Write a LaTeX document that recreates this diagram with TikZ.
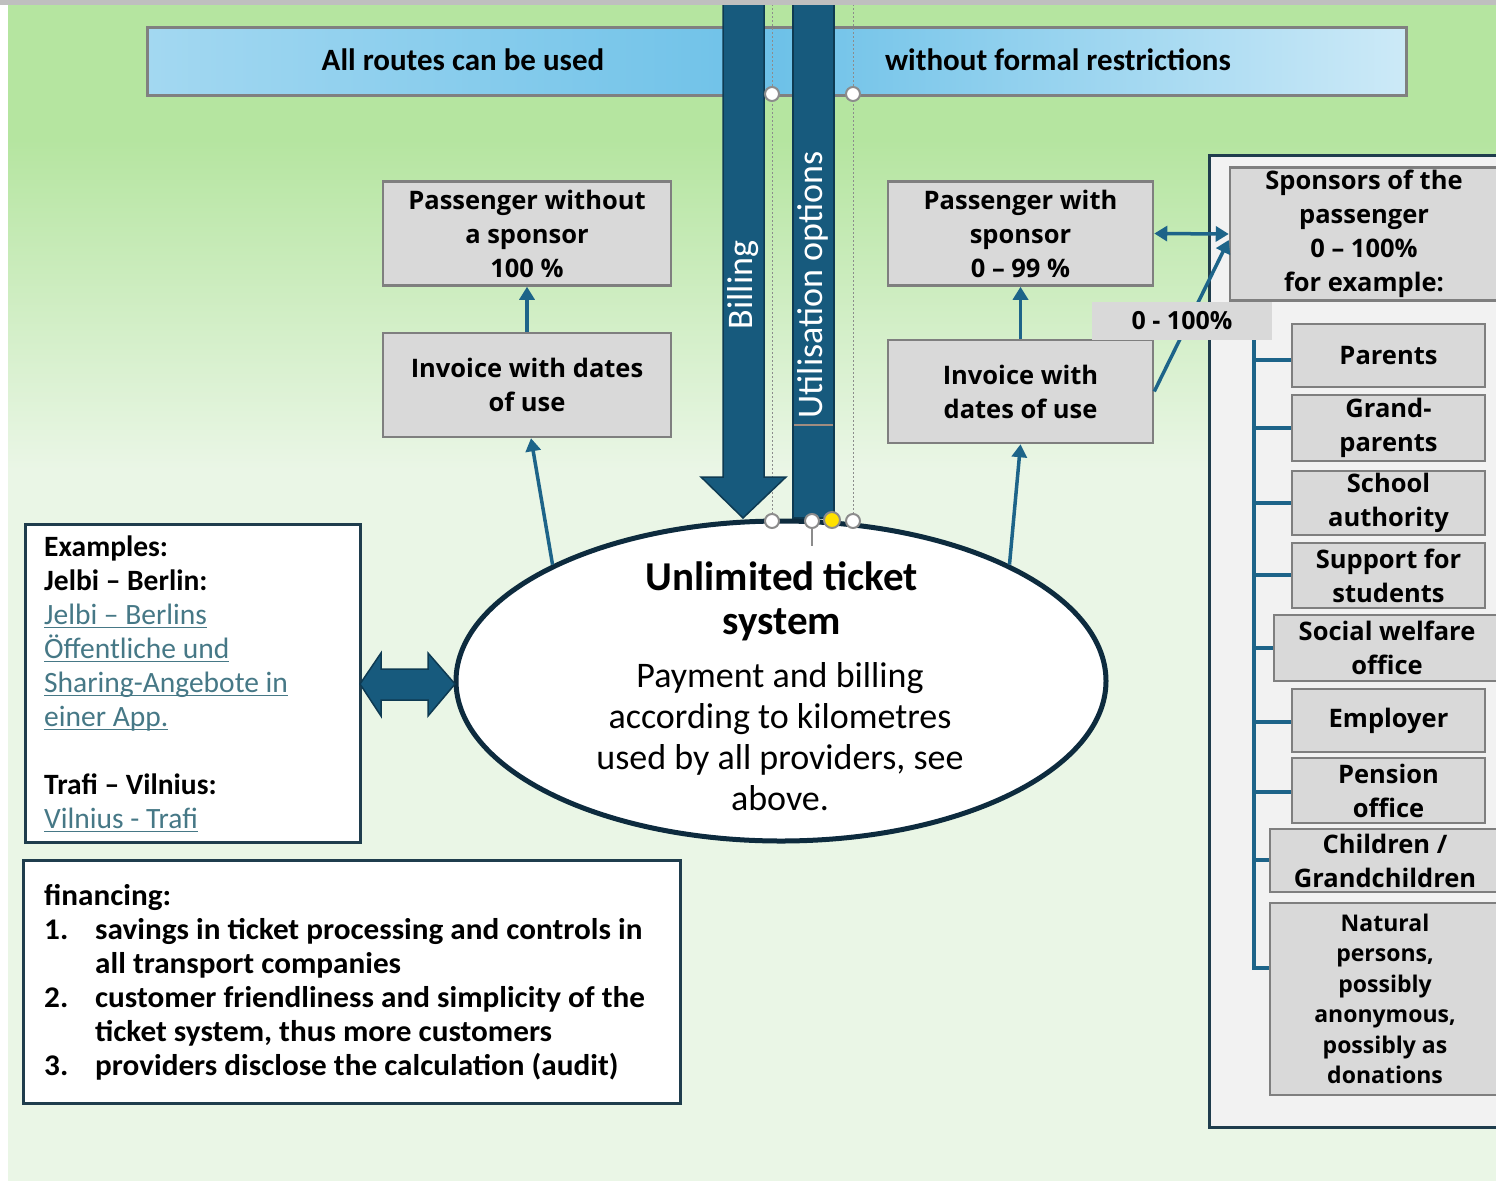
\documentclass[tikz,border=0pt]{standalone}
\usepackage{fontspec}
\setmainfont{Open Sans}
\newfontfamily\nar{Carlito}
\newfontfamily\narw[FakeStretch=1.04]{Carlito}
\usetikzlibrary{shapes.geometric, arrows.meta, calc}

\definecolor{bggreen}{HTML}{B5E5A0}
\definecolor{bglight}{HTML}{EAF6E6}
\definecolor{bannerA}{HTML}{A3D8F1}
\definecolor{bannerB}{HTML}{6DC1E8}
\definecolor{bannerline}{HTML}{808080}
\definecolor{navy}{HTML}{175A7D}
\definecolor{navyline}{HTML}{0E3A52}
\definecolor{conncol}{HTML}{1D6489}
\definecolor{boxfill}{HTML}{D9D9D9}
\definecolor{boxline}{HTML}{7F7F7F}
\definecolor{framecol}{HTML}{1F3D4D}
\definecolor{panel}{HTML}{F2F2F2}
\definecolor{linkcol}{HTML}{467886}
\definecolor{handlecol}{HTML}{8C8C8C}
\definecolor{knob}{HTML}{FFE100}
\definecolor{ellline}{HTML}{0D2B3E}
\definecolor{tabline}{HTML}{A08C80}

% underlined hyperlink-style text
\newcommand\ulk[1]{\leavevmode\setbox0\hbox{#1}\rlap{\color{linkcol}\rule[-3pt]{\wd0}{1.3pt}}\box0}

\tikzset{
  gbox/.style={draw=boxline, line width=2.5pt, fill=boxfill, align=center,
    inner sep=0pt, font=\fontsize{25.5}{34}\selectfont\bfseries},
  conn/.style={draw=conncol, line width=3.5pt, -{Triangle[length=13pt,width=15pt]}},
  handle/.style={circle, draw=handlecol, line width=2pt, fill=white,
    minimum size=14pt, inner sep=0pt},
  guide/.style={draw=handlecol, line width=1pt, dash pattern=on 2pt off 2pt},
  vtext/.style={rotate=90, text=white, font=\nar\fontsize{36}{40}\selectfont},
}

\begin{document}
\begin{tikzpicture}[x=1pt, y=-1pt]
\useasboundingbox (0,0) rectangle (1496,1181);
\clip (0,0) rectangle (1496,1181);

% background
\fill[white] (0,0) rectangle (1496,1181);
\fill[bglight] (8,0) rectangle (1496,1181);
\fill[bggreen] (8,0) rectangle (1496,140);
\shade[top color=bggreen, bottom color=bglight] (8,139) rectangle (1496,470);

% banner
\shade[left color=bannerA, right color=bannerA!55!white, middle color=bannerB]
  (147,27) rectangle (1406,95);
\node[draw=bannerline, line width=3pt, minimum width=1259pt, minimum height=68pt,
  inner sep=0pt] (banner) at (776.5,61) {};
\node[font=\nar\fontsize{31}{34}\selectfont\bfseries] (bannerL) at (463,60) {All routes can be used};
\node[font=\nar\fontsize{31}{34}\selectfont\bfseries] (bannerR) at (1058,60) {without formal restrictions};

% guide lines of the selected shapes
\draw[guide] (772,0) -- (772,521);
\draw[guide] (853,0) -- (853,521);
\draw[guide] (772,521) -- (812,521);

% billing arrow
\filldraw[fill=navy, draw=navyline, line width=1.5pt]
  (723,-2) -- (764,-2) -- (764,477) -- (786,477) -- (743,518) -- (701,477) -- (723,477) -- cycle;
\node[vtext] (billing) at (743,285) {Billing};

% utilisation bar
\filldraw[fill=navy, draw=navyline, line width=1.5pt] (793,-2) rectangle (834,518);
\draw[tabline, line width=2pt] (794,425) -- (833,425);
\node[vtext] (util) at (813,285) {Utilisation options};

% right panel
\filldraw[fill=panel, draw=framecol, line width=3pt] (1209,155) rectangle (1530,1127);

% grey boxes
\node[gbox, minimum width=288pt, minimum height=104pt] (pnos) at (527,233.5)
  {Passenger without\\a sponsor\\100 \%};
\node[gbox, minimum width=288pt, minimum height=104pt] (inv1) at (527,385)
  {Invoice with dates\\of use};
\node[gbox, minimum width=265pt, minimum height=104pt] (psp) at (1020.5,233.5)
  {Passenger with\\sponsor\\0 – 99 \%};
\node[gbox, minimum width=265pt, minimum height=103pt] (inv2) at (1020.5,391.5)
  {Invoice with\\dates of use};
\node[gbox, minimum width=268pt, minimum height=133pt] (spons) at (1364,234)
  {Sponsors of the\\passenger\\0 – 100\%\\for example:};

% list of sponsors
\node[gbox, minimum width=193pt, minimum height=63pt] (parents) at (1388.5,355.5) {Parents};
\node[gbox, minimum width=193pt, minimum height=66pt] (grand) at (1388.5,428) {Grand-\\parents};
\node[gbox, minimum width=193pt, minimum height=64pt] (school) at (1388.5,503) {School\\authority};
\node[gbox, minimum width=193pt, minimum height=65pt] (support) at (1388.5,575.5) {Support for\\students};
\node[gbox, minimum width=226pt, minimum height=66pt] (social) at (1387,648) {Social welfare\\office};
\node[gbox, minimum width=193pt, minimum height=63pt] (employer) at (1388.5,720.5) {Employer};
\node[gbox, minimum width=193pt, minimum height=65pt] (pension) at (1388.5,790.5) {Pension\\office};
\node[gbox, minimum width=230pt, minimum height=63pt] (children) at (1385,860.5) {Children /\\Grandchildren};
\node[gbox, minimum width=230pt, minimum height=192pt, font=\fontsize{23}{30.5}\selectfont\bfseries]
  (natural) at (1385,999)
  {Natural\\persons,\\possibly\\anonymous,\\possibly as\\donations};

% tree joining the sponsors
\coordinate (trunkTop) at (1254,340);
\coordinate (trunkBot) at (1254,970);
\draw[conncol, line width=3.5pt] (trunkTop) -- (trunkBot);
\foreach \b/\yy in {parents/360, grand/428, school/503, support/575, social/648,
                     employer/722, pension/792, children/860, natural/968}
  \draw[conncol, line width=3.5pt] (trunkTop |- 0,\yy) -- (\b.west |- 0,\yy);

% connectors
\draw[conn] (inv1.north) -- (pnos.south);
\draw[conn] (inv2.north) -- (psp.south);
\draw[conn, {Triangle[length=13pt,width=15pt]}-{Triangle[length=13pt,width=15pt]}]
  (psp.east) -- (spons.west);
\draw[conn] (inv2.east) -- ([yshift=-6pt]spons.west);
\node[fill=boxfill, minimum width=180pt, minimum height=38pt, inner sep=0pt,
  font=\fontsize{25}{30}\selectfont\bfseries] (share) at (1182,321) {0 - 100\%};

% central ellipse
\node[ellipse, draw=ellline, line width=5pt, fill=white, minimum width=650pt,
  minimum height=320pt, inner sep=0pt] (ell) at (781,681) {};
\draw[conn] (ell.153) -- ([xshift=4pt]inv1.south);
\draw[conn] (ell.27) -- (inv2.south);
\node[font=\nar\fontsize{41}{44}\selectfont\bfseries, align=center] (title) at (782,601)
  {Unlimited ticket\\system};
\node[font=\nar\fontsize{36}{41}\selectfont, align=center] (body) at (780,737)
  {Payment and billing\\according to kilometres\\used by all providers, see\\above.};

% handles
\node[handle] (h1) at (772,94) {};
\node[handle] (h2) at (853,94) {};
\draw[handlecol, line width=1.2pt] (812,521) -- (812,546);
\node[handle] (h3) at (772,521) {};
\node[handle] (h4) at (812,521) {};
\node[handle, fill=knob, minimum size=16pt] (h5) at (832,520) {};
\node[handle] (h6) at (853,521) {};

% examples
\filldraw[framecol, fill=white, line width=3pt] (25,524) rectangle (360,842);
\node[anchor=north west, align=left, inner sep=0pt,
  font=\nar\fontsize{29.5}{34}\selectfont] (examples) at (44,536)
  {\textbf{Examples:}\\
   \textbf{Jelbi – Berlin:}\\
   \textcolor{linkcol}{\ulk{Jelbi – Berlins}}\\
   \textcolor{linkcol}{\ulk{Öffentliche und}}\\
   \textcolor{linkcol}{\ulk{Sharing-Angebote in}}\\
   \textcolor{linkcol}{\ulk{einer App.}}\\
   \mbox{}\\
   \textbf{Trafi – Vilnius:}\\
   \textcolor{linkcol}{\ulk{Vilnius - Trafi}}};

% block arrow between the examples and the ticket system
\filldraw[fill=navy, draw=navyline, line width=1.5pt]
  (360,684) -- (381,653) -- (381,669) -- (428,669) -- (428,653) -- (455,684)
  -- (428,716) -- (428,700) -- (381,700) -- (381,716) -- cycle;

% financing
\filldraw[framecol, fill=white, line width=3pt] (23,860) rectangle (680,1103);
\node[anchor=north west, align=left, inner sep=0pt,
  font=\narw\fontsize{30}{34}\selectfont\bfseries] (financing) at (44,884)
  {financing:\\
   \makebox[51pt][l]{1.}savings in ticket processing and controls in\\
   \hspace*{51pt}all transport companies\\
   \makebox[51pt][l]{2.}customer friendliness and simplicity of the\\
   \hspace*{51pt}ticket system, thus more customers\\
   \makebox[51pt][l]{3.}providers disclose the calculation (audit)};

% top strip
\fill[black!25] (0,0) rectangle (1496,5);
\end{tikzpicture}
\end{document}
